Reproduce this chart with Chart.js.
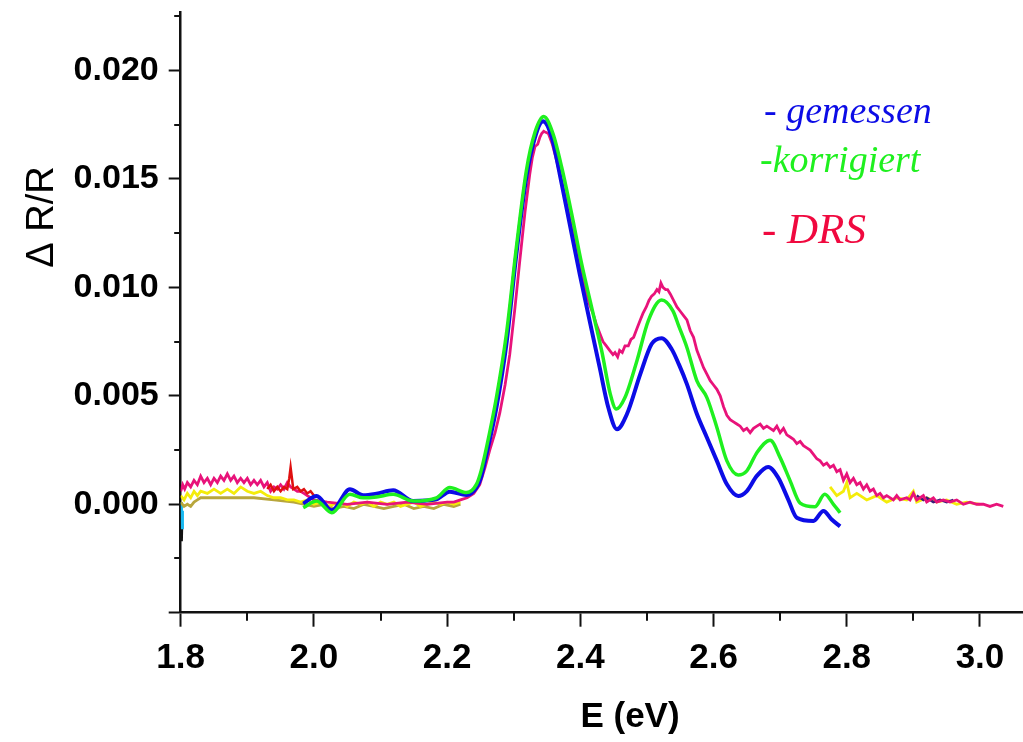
<!DOCTYPE html>
<html>
<head>
<meta charset="utf-8">
<script src="https://cdn.jsdelivr.net/npm/chart.js@4.4.1/dist/chart.umd.min.js"></script>
<style>
  html, body { margin: 0; padding: 0; background: #ffffff; }
  #wrap { position: relative; width: 1023px; height: 742px; }
  canvas { display: block; }
</style>
</head>
<body>
<div id="wrap"><canvas id="c" width="1023" height="742"></canvas></div>
<script>
// ---------- axis ticks ----------
const xMajorStep = 0.2;
const xMinorTicks = [1.9, 2.1, 2.3, 2.5, 2.7, 2.9];
const yMajorStep = 0.005;
const yMinorTicks = [-0.0025, 0.0025, 0.0075, 0.0125, 0.0175, 0.0225];
const yUnlabelled = [-0.005];

// ---------- legend / titles ----------
const legendLabels = ['- gemessen', '-korrigiert', '- DRS'];
const xTitle = 'E (eV)';
const yTitle = '\u0394 R/R';

// ---------- gemessen (blue) ----------
const gemE = [1.984, 2.004, 2.027, 2.054, 2.074, 2.094, 2.119, 2.149, 2.184, 2.204, 2.229, 2.244, 2.251,
  2.259, 2.274, 2.289, 2.304, 2.319, 2.332, 2.344, 2.357, 2.369, 2.384, 2.399, 2.414, 2.429, 2.442, 2.455,
  2.470, 2.490, 2.507, 2.522, 2.537, 2.548, 2.560, 2.575, 2.590, 2.605, 2.620, 2.637, 2.650, 2.665, 2.682,
  2.697, 2.712, 2.725, 2.750, 2.765, 2.777, 2.790];
const gemR = [0.00003, 0.00038, -0.00028, 0.00069, 0.00042, 0.00049, 0.00065, 0.00015, 0.00023, 0.00058, 0.00043, 0.00077, 0.00125,
  0.0023, 0.00446, 0.00739, 0.01154, 0.01508, 0.01693, 0.01766, 0.01693, 0.01524, 0.01293, 0.01062, 0.00846, 0.00631, 0.00446, 0.00346,
  0.00416, 0.0060, 0.00739, 0.00766, 0.00716, 0.00645, 0.00554, 0.00416, 0.00308, 0.0020, 0.00092, 0.00038, 0.00061, 0.00131, 0.00172,
  0.00123, 0.00023, -0.00062, -0.00077, -0.00031, -0.00069, -0.00102];

// ---------- korrigiert (green) ----------
const korE = [1.984, 2.004, 2.027, 2.054, 2.074, 2.094, 2.119, 2.149, 2.184, 2.204, 2.229, 2.244, 2.251,
  2.259, 2.274, 2.289, 2.304, 2.319, 2.332, 2.345, 2.359, 2.372, 2.387, 2.402, 2.417, 2.432, 2.445, 2.454,
  2.467, 2.485, 2.502, 2.522, 2.539, 2.548, 2.560, 2.575, 2.590, 2.605, 2.620, 2.637, 2.650, 2.665, 2.685,
  2.700, 2.715, 2.730, 2.752, 2.767, 2.780, 2.790];
const korR = [-0.00016, 0.00015, -0.00039, 0.00046, 0.0003, 0.00034, 0.00046, 0.00015, 0.0003, 0.00077, 0.00054, 0.00092, 0.00154,
  0.0026, 0.00492, 0.00785, 0.01185, 0.01539, 0.01716, 0.01788, 0.01708, 0.01554, 0.01339, 0.01108, 0.00908, 0.00708, 0.00508, 0.00439,
  0.00492, 0.00662, 0.00846, 0.00942, 0.00892, 0.0082, 0.00723, 0.00569, 0.00492, 0.00354, 0.0020, 0.00135, 0.00154, 0.00238, 0.00295,
  0.00215, 0.00108, 0.00005, -0.00012, 0.00046, 0.0, -0.00039];

// ---------- DRS (pink) ----------
const drsE = [1.800, 1.803, 1.806, 1.810, 1.815, 1.820, 1.825, 1.830, 1.835, 1.840, 1.845, 1.850, 1.855, 1.860, 1.865,
  1.870, 1.875, 1.880, 1.885, 1.890, 1.895, 1.900, 1.905, 1.910, 1.915, 1.920, 1.925, 1.930, 1.935, 1.940, 1.945,
  1.950, 1.955, 1.960, 1.965, 1.970, 1.975, 1.980, 1.985, 1.990, 1.995, 2.000, 2.020, 2.050, 2.080, 2.110, 2.140,
  2.170, 2.200, 2.210, 2.220, 2.230, 2.240, 2.249, 2.257, 2.264, 2.272, 2.279, 2.287, 2.294, 2.302, 2.309, 2.317,
  2.324, 2.328, 2.332, 2.336, 2.339, 2.342, 2.345, 2.348, 2.352, 2.358, 2.364, 2.371, 2.379, 2.386, 2.394, 2.401,
  2.409, 2.414, 2.419, 2.424, 2.429, 2.434, 2.439, 2.444, 2.449, 2.452, 2.456, 2.459, 2.463, 2.467, 2.472, 2.476,
  2.480, 2.485, 2.490, 2.494, 2.499, 2.503, 2.507, 2.511, 2.515, 2.518, 2.521, 2.524, 2.528, 2.531, 2.535, 2.540,
  2.545, 2.550, 2.555, 2.560, 2.565, 2.570, 2.575, 2.580, 2.585, 2.590, 2.595, 2.600, 2.605, 2.610, 2.615, 2.620,
  2.625, 2.630, 2.635, 2.640, 2.645, 2.650, 2.655, 2.660, 2.665, 2.670, 2.675, 2.680, 2.685, 2.690, 2.695, 2.700,
  2.705, 2.710, 2.715, 2.720, 2.725, 2.730, 2.735, 2.740, 2.745, 2.750, 2.755, 2.760, 2.765, 2.770, 2.775, 2.780,
  2.785, 2.790, 2.795, 2.800, 2.805, 2.810, 2.815, 2.820, 2.825, 2.830, 2.835, 2.840, 2.845, 2.850, 2.855, 2.860,
  2.870, 2.875, 2.880, 2.890, 2.895, 2.900, 2.905, 2.915, 2.920, 2.930, 2.935, 2.945, 2.955, 2.965, 2.975, 2.985,
  2.995, 3.005, 3.015, 3.025, 3.035];
const drsR = [0.0006, 0.0009, 0.0007, 0.0010, 0.0008, 0.0011, 0.0009, 0.0013, 0.0010, 0.0012, 0.0009, 0.0012, 0.0010, 0.0013, 0.0011,
  0.0014, 0.0011, 0.0013, 0.0010, 0.0012, 0.0010, 0.0012, 0.0009, 0.0011, 0.0009, 0.0011, 0.0008, 0.0010, 0.0006, 0.0008, 0.0007,
  0.0009, 0.0007, 0.0010, 0.0008, 0.0007, 0.0006, 0.0006, 0.0005, 0.0004, 0.0003, 0.0002, 0.0001, 0.0000, 0.0001, 0.0000, 0.0001,
  0.0000, 0.0001, 0.0001, 0.0002, 0.0003, 0.0005, 0.0009, 0.0017, 0.0025, 0.0033, 0.0042, 0.0055, 0.0069, 0.0091, 0.0112, 0.0135,
  0.0152, 0.0160, 0.0165, 0.0166, 0.0169, 0.0171, 0.0172, 0.01715, 0.0171, 0.0166, 0.0159, 0.0150, 0.0140, 0.0129, 0.0119, 0.0108,
  0.0097, 0.0092, 0.0088, 0.0083, 0.0079, 0.0075, 0.0073, 0.0071, 0.0069, 0.0070, 0.0068, 0.0071, 0.0070, 0.0073, 0.0073, 0.0076,
  0.0077, 0.0081, 0.0085, 0.0088, 0.0091, 0.0094, 0.0096, 0.0097, 0.0099, 0.0098, 0.0102, 0.0100, 0.0099, 0.0099, 0.0097, 0.0094,
  0.0091, 0.0089, 0.0087, 0.0085, 0.0080, 0.0077, 0.0071, 0.0067, 0.0063, 0.0060, 0.0057, 0.0055, 0.0053, 0.0050, 0.0045, 0.0041,
  0.0039, 0.0038, 0.0037, 0.0036, 0.0034, 0.0035, 0.0033, 0.0035, 0.0036, 0.0037, 0.0035, 0.0036, 0.0035, 0.0034, 0.0036, 0.0033,
  0.0035, 0.0032, 0.0031, 0.0030, 0.0028, 0.0029, 0.0027, 0.0026, 0.0025, 0.0023, 0.0021, 0.0020, 0.0018, 0.0019, 0.0017, 0.0018,
  0.0015, 0.0016, 0.0011, 0.0014, 0.0010, 0.0012, 0.0009, 0.0010, 0.0007, 0.0009, 0.0006, 0.0007, 0.0004, 0.0005, 0.0003, 0.0004,
  0.0002, 0.0004, 0.0002, 0.0003, 0.0002, 0.0005, 0.0002, 0.0004, 0.0001, 0.0003, 0.0001, 0.0002, 0.0001, 0.0002, 0.0000, 0.0001,
  0.0000, 0.0000, -0.0001, 0.0000, -0.0001];

// ---------- other measured segments (not in legend) ----------
const yelE = [1.800, 1.805, 1.810, 1.815, 1.820, 1.825, 1.830, 1.840, 1.850, 1.860, 1.870, 1.880, 1.890, 1.900, 1.910, 1.920,
  1.930, 1.940, 1.950, 1.960, 1.970, 1.980, 1.990, 2.000, 2.010, 2.020, 2.030, 2.040, 2.050, 2.060, 2.070, 2.080, 2.090,
  2.100, 2.110, 2.120, 2.130, 2.140, 2.150, 2.160, 2.170, 2.180, 2.190, 2.200, 2.210, 2.220, 2.500,
  2.775, 2.785, 2.795, 2.800, 2.805, 2.815, 2.830, 2.845, 2.860, 2.875, 2.890, 2.900, 2.905, 2.920, 2.935, 2.950, 2.965, 2.980, 3.000];
const yelR = [0.0004, 0.0002, 0.0005, 0.0003, 0.0006, 0.0004, 0.0006, 0.0005, 0.0007, 0.0005, 0.0007, 0.0005, 0.0008, 0.0006, 0.0005, 0.0006,
  0.0004, 0.0003, 0.0003, 0.0002, 0.0002, 0.0001, 0.0002, 0.0000, 0.0001, -0.0001, 0.0000, 0.0001, -0.0001, 0.0001, 0.0000, 0.0001, -0.0001,
  0.0001, 0.0000, 0.0001, -0.0001, 0.0000, 0.0001, -0.0001, 0.0000, 0.0001, 0.0000, 0.0001, 0.0000, 0.0001, null,
  0.0008, 0.0004, 0.0006, 0.0010, 0.0003, 0.0005, 0.0002, 0.0004, 0.0001, 0.0003, 0.0002, 0.0006, 0.0001, 0.0003, 0.0001, 0.0002, 0.0000, 0.0001, 0.0000];

const oliE = [1.800, 1.805, 1.810, 1.815, 1.820, 1.825, 1.830, 1.850, 1.880, 1.910, 1.940, 1.970, 2.000, 2.015, 2.030, 2.045,
  2.060, 2.075, 2.090, 2.105, 2.120, 2.135, 2.150, 2.165, 2.180, 2.195, 2.210, 2.220];
const oliR = [0.0001, -0.0001, 0.0000, -0.0001, 0.0001, 0.0002, 0.0003, 0.0003, 0.0003, 0.0003, 0.0002, 0.0001, -0.0001, 0.0000, -0.0002, -0.0001,
  -0.0002, 0.0000, -0.0001, -0.0002, -0.0001, 0.0000, -0.0002, -0.0001, -0.0002, 0.0000, -0.0001, 0.0000];

const redE = [1.930, 1.935, 1.940, 1.945, 1.950, 1.955, 1.960, 1.963, 1.965, 1.967, 1.969, 1.975, 1.980, 1.985, 1.990, 1.995, 2.000];
const redR = [0.0007, 0.0009, 0.0006, 0.0008, 0.0006, 0.0008, 0.0007, 0.0012, 0.0017, 0.0012, 0.0007, 0.0008, 0.0006, 0.0007, 0.0005, 0.0006, 0.0004];

const purE = [2.905, 2.910, 2.915, 2.920, 2.930, 2.940, 2.950, 2.960];
const purR = [0.0004, 0.0003, 0.0002, 0.0003, 0.0001, 0.0002, 0.0001, 0.0002];

const cyaE = [1.8010, 1.8015, 1.8020, 1.8030];
const cyaR = [0.0001, -0.0005, -0.0011, -0.0003];

const blkE = [1.8012, 1.8018, 1.8024];
const blkR = [-0.0004, -0.0017, -0.0009];

const pts = (xs, ys) => xs.map((v, i) => ({ x: v, y: ys[i] }));

const colors = {
  gem: '#0c0ce6', kor: '#1ff01f', drs: '#e8137a', drsText: '#f0093f',
  yel: '#f4ec0a', oli: '#b8a63c', red: '#e01010', pur: '#3b1d78', cya: '#17b8f0', blk: '#111111'
};

const overlay = {
  id: 'overlay',
  afterDraw(chart) {
    const { ctx, scales: { x, y } } = chart;
    ctx.save();
    ctx.strokeStyle = '#111';
    ctx.lineWidth = 2;
    ctx.beginPath();
    xMinorTicks.forEach(v => {
      const px = Math.round(x.getPixelForValue(v));
      ctx.moveTo(px, x.top);
      ctx.lineTo(px, x.top + 8);
    });
    yMinorTicks.forEach(v => {
      const py = Math.round(y.getPixelForValue(v));
      ctx.moveTo(y.right - 6.5, py);
      ctx.lineTo(y.right, py);
    });
    ctx.stroke();

    // axis titles
    ctx.fillStyle = '#000';
    ctx.textAlign = 'center';
    ctx.textBaseline = 'middle';
    ctx.font = "bold 35px 'Liberation Sans', Arial, sans-serif";
    ctx.fillText(xTitle, 630, 717);
    ctx.save();
    ctx.translate(43, 217);
    ctx.rotate(-Math.PI / 2);
    ctx.font = "38px 'Liberation Sans', Arial, sans-serif";
    ctx.fillText(yTitle, 0, 0);
    ctx.restore();

    // legend
    ctx.textAlign = 'left';
    ctx.textBaseline = 'alphabetic';
    ctx.font = "italic 38px 'Liberation Serif', 'Times New Roman', serif";
    ctx.fillStyle = colors.gem;
    ctx.fillText(legendLabels[0], 764, 123);
    ctx.fillStyle = colors.kor;
    ctx.fillText(legendLabels[1], 760, 172);
    ctx.font = "italic 43px 'Liberation Serif', 'Times New Roman', serif";
    ctx.fillStyle = colors.drsText;
    ctx.fillText(legendLabels[2], 762, 243);
    ctx.restore();
  }
};

const line = (label, xs, ys, color, width, tension) => ({
  label, data: pts(xs, ys), borderColor: color, backgroundColor: color,
  borderWidth: width, pointRadius: 0, tension: tension, fill: false, spanGaps: false,
  cubicInterpolationMode: tension > 0 ? 'monotone' : 'default'
});

new Chart(document.getElementById('c'), {
  type: 'line',
  data: {
    datasets: [
      line('korrigiert', korE, korR, colors.kor, 3.5, 0.4),
      line('gemessen', gemE, gemR, colors.gem, 4, 0.4),
      line('red', redE, redR, colors.red, 2.5, 0),
      line('DRS', drsE, drsR, colors.drs, 2.8, 0),
      line('purple', purE, purR, colors.pur, 2.5, 0),
      line('yellow', yelE, yelR, colors.yel, 2.8, 0),
      line('olive', oliE, oliR, colors.oli, 2.8, 0),
      line('cyan', cyaE, cyaR, colors.cya, 2.5, 0),
      line('black', blkE, blkR, colors.blk, 2, 0)
    ]
  },
  options: {
    responsive: false,
    animation: false,
    devicePixelRatio: 1,
    layout: { padding: { top: 12, right: 0, left: 0, bottom: 0 } },
    plugins: { legend: { display: false }, tooltip: { enabled: false }, title: { display: false } },
    scales: {
      x: {
        type: 'linear', position: 'bottom', min: 1.8, max: 3.0646,
        afterFit: s => { s.height = 129.3; s.paddingLeft = 0; s.paddingRight = 0; },
        border: { display: true, color: '#111', width: 2.5 },
        grid: { display: true, drawOnChartArea: false, drawTicks: true, tickLength: 14, tickColor: '#111', tickWidth: 2 },
        ticks: {
          stepSize: xMajorStep, includeBounds: false, maxRotation: 0, autoSkip: false, padding: 11,
          color: '#000',
          font: { family: "'Liberation Sans', Arial, sans-serif", weight: 'bold', size: 35 },
          callback: v => Number(v).toFixed(1)
        }
      },
      y: {
        type: 'linear', position: 'left', min: -0.005, max: 0.0227,
        afterFit: s => { s.width = 180.7; s.paddingTop = 0; s.paddingBottom = 0; },
        border: { display: true, color: '#111', width: 2.5 },
        grid: { display: true, drawOnChartArea: false, drawTicks: true, tickLength: 12, tickColor: '#111', tickWidth: 2 },
        ticks: {
          stepSize: yMajorStep, includeBounds: false, padding: 10, color: '#000',
          font: { family: "'Liberation Sans', Arial, sans-serif", weight: 'bold', size: 34 },
          callback: v => yUnlabelled.some(u => Math.abs(u - v) < 1e-9) ? '' : (Math.abs(v) < 1e-9 ? 0 : v).toFixed(3)
        }
      }
    }
  },
  plugins: [overlay]
});
</script>
</body>
</html>
